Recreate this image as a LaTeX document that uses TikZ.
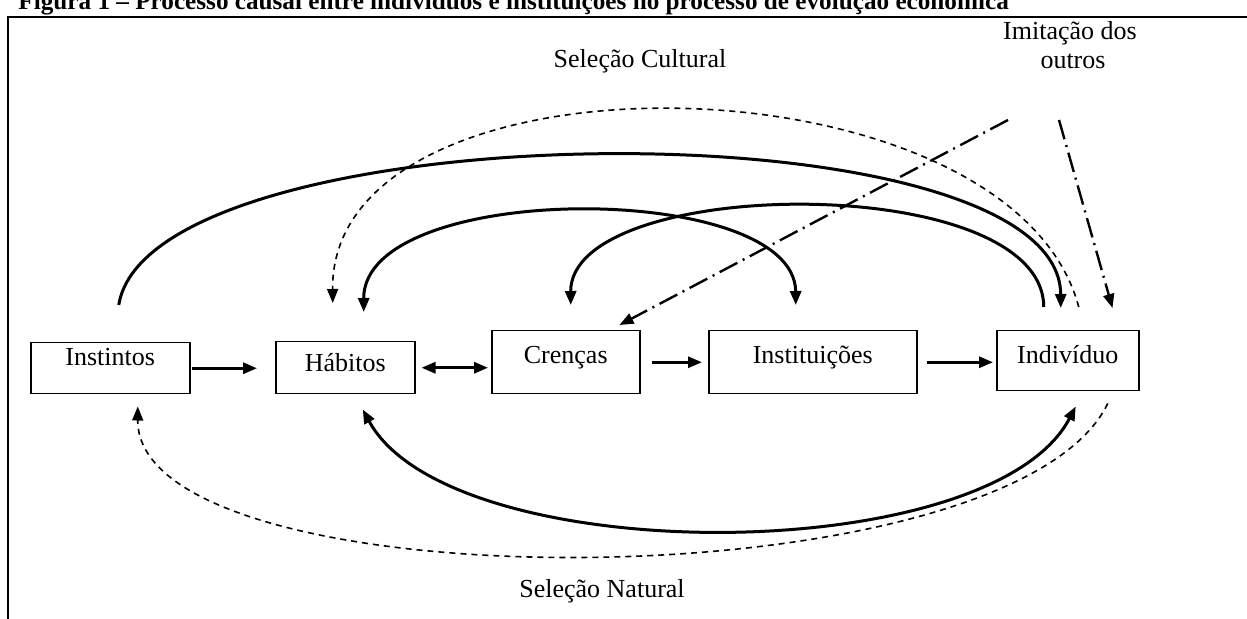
\documentclass[tikz,border=0pt]{standalone}
\usepackage{fontspec}
\setmainfont{Liberation Serif}
\usetikzlibrary{arrows.meta,calc}
\begin{document}
\begin{tikzpicture}[x=0.5pt,y=-0.5pt,
  box/.style={draw,line width=0.75pt,inner sep=0pt,anchor=north west,align=center,font=\fontsize{13}{15}\selectfont},
  lbl/.style={font=\fontsize{13}{15}\selectfont,inner sep=0pt,anchor=base},
  tip/.style={-{Triangle[length=7pt,width=5.5pt]}},
  dtip/.style={{Triangle[length=7pt,width=5.5pt]}-{Triangle[length=7pt,width=5.5pt]}},
  solidarc/.style={line width=1.5pt},
  harrow/.style={line width=1.5pt},
  dashedarc/.style={line width=0.8pt,dash pattern=on 3pt off 2.5pt},
  dashdot/.style={line width=1.2pt,dash pattern=on 10pt off 3pt on 1pt off 3pt},
  frame/.style={line width=1pt}
]
\useasboundingbox (0,0) rectangle (1247,619);

% title (cut off at the top)
\node[anchor=base west,inner sep=0pt,font=\fontsize{12.6}{14}\selectfont\bfseries] (title) at (18,10)
  {Figura 1 -- Processo causal entre indivíduos e instituições no processo de evolução econômica};

% frame
\draw[frame] (1247,17) -- (8,17) -- (8,619);

% boxes
\node[box,minimum width=79.5pt,text height=11.5pt,text depth=14pt] (inst) at (30,342) {Instintos};
\node[box,minimum width=69.5pt,text height=15pt,text depth=11pt] (hab) at (275,341) {Hábitos};
\node[box,minimum width=74pt,text height=16.5pt,text depth=15pt] (cren) at (491,330) {Crenças};
\node[box,minimum width=104pt,text height=16.5pt,text depth=15pt] (instit) at (708,330) {Instituições};
\node[box,minimum width=71pt,text height=16.5pt,text depth=13.5pt] (indiv) at (996,330) {Indivíduo};

% labels
\node[lbl] (selcult) at (640,68) {Seleção Cultural};
\node[lbl] (imit1) at (1070,40) {Imitação dos};
\node[lbl] (imit2) at (1073,69) {outros};
\node[lbl] (selnat) at (602,597) {Seleção Natural};

% horizontal arrows
\draw[harrow,tip,shorten <=0.5pt,shorten >=9pt] (inst.east) -- (inst.east -| hab.west);
\draw[harrow,dtip,shorten <=3pt,shorten >=1.5pt] (hab.east) -- (hab.east -| cren.west);
\draw[harrow,tip,shorten <=5.5pt,shorten >=3pt] (cren.east) -- (cren.east -| instit.west);
\draw[harrow,tip,shorten <=4.5pt,shorten >=1.5pt] (instit.east) -- (instit.east -| indiv.west);

% solid arcs
\draw[solidarc,tip] ($(inst.north)+(8.5,-37)$) .. controls (150,110) and (1060,100) .. ($(indiv.north)+(-7,-22)$);
\draw[solidarc,dtip] ($(hab.north)+(18.5,-29)$) .. controls (363,180) and (795,180) .. ($(instit.north)+(-17,-25)$);
\draw[solidarc,tip] ($(indiv.north)+(-24,-23)$) .. controls (1043,170) and (570,175) .. ($(cren.north)+(5,-25)$);
\draw[solidarc,dtip] ($(hab.south)+(17.5,15)$) .. controls (450,570) and (990,570) .. ($(indiv.south)+(8,15)$);

% dashed arcs
\draw[dashedarc,tip] ($(indiv.north)+(11,-23)$) .. controls (1010,50) and (330,40) .. ($(hab.north)+(-12.5,-38)$);
\draw[dashedarc,tip] ($(indiv.south)+(40,12)$) .. controls (1010,606) and (137,606) .. ($(inst.south)+(27.5,12)$);

% dash-dot arrows (imitation)
\coordinate (im1) at (1008,120);
\coordinate (im2) at (1059,120);
\draw[dashdot,tip] (im1) -- ($(cren.north east)+(-21,-5)$);
\draw[dashdot,tip] (im2) -- ($(indiv.north east)+(-27,-22)$);
\end{tikzpicture}
\end{document}
